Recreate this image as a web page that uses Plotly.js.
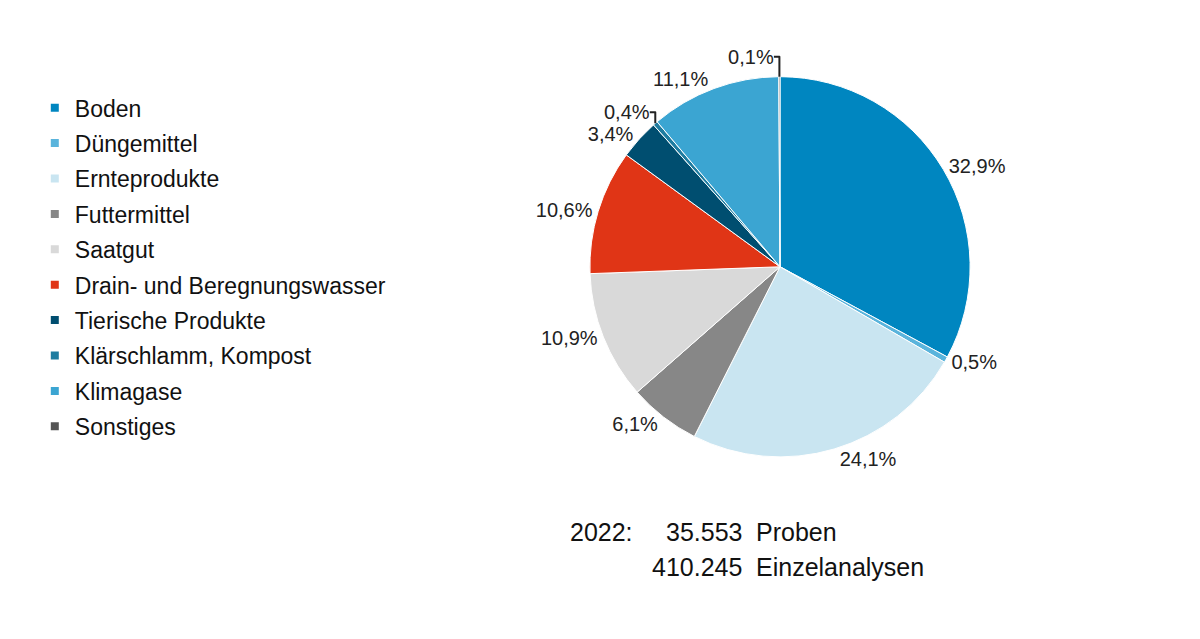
<!DOCTYPE html>
<html>
<head>
<meta charset="utf-8">
<script src="https://cdn.plot.ly/plotly-3.0.1.min.js"></script>
<style>
  html, body { margin: 0; padding: 0; background: #fff; }
  #myDiv { width: 1200px; height: 639px; }
</style>
</head>
<body>
<div id="myDiv"></div>
<script>
var categories = [
  "Boden",
  "Düngemittel",
  "Ernteprodukte",
  "Futtermittel",
  "Saatgut",
  "Drain- und Beregnungswasser",
  "Tierische Produkte",
  "Klärschlamm, Kompost",
  "Klimagase",
  "Sonstiges"
];
var shares = [32.9, 0.5, 24.1, 6.1, 10.9, 10.6, 3.4, 0.4, 11.1, 0.1];
var colors = [
  "#0086c0", "#5ab4dc", "#c9e5f1", "#878787", "#d9d9d9",
  "#e03516", "#004e70", "#1e7ca0", "#3ba5d2", "#555555"
];
var year = "2022:";
var totals = ["35.553", "410.245"];
var totalLabels = ["Proben", "Einzelanalysen"];

var pie = {
  type: "pie",
  labels: categories,
  values: shares,
  sort: false,
  direction: "clockwise",
  rotation: 0,
  marker: { colors: colors, line: { color: "#ffffff", width: 1 } },
  textposition: "outside",
  texttemplate: "%{value:.1f}%",
  textfont: { size: 20, color: "#222" },
  hoverinfo: "label+value",
  showlegend: false,
  domain: { x: [0.45, 0.85], y: [0.285, 0.88] }
};

// legend entries, one per category so the rows can be spaced out
var legendTraces = categories.map(function (name, i) {
  return {
    type: "scatter",
    mode: "markers",
    x: [null],
    y: [null],
    name: name,
    legendgroup: "g" + i,
    marker: { symbol: "square", size: 8, color: colors[i] },
    hoverinfo: "skip"
  };
});

var data = [pie].concat(legendTraces);

var annotations = [
  { text: year, x: 0.473, y: 0.167, xanchor: "left" },
  { text: totals[0], x: 0.62, y: 0.167, xanchor: "right" },
  { text: totalLabels[0], x: 0.628, y: 0.167, xanchor: "left" },
  { text: totals[1], x: 0.62, y: 0.113, xanchor: "right" },
  { text: totalLabels[1], x: 0.628, y: 0.113, xanchor: "left" }
].map(function (a) {
  a.xref = "paper";
  a.yref = "paper";
  a.yanchor = "middle";
  a.showarrow = false;
  a.font = { size: 25, color: "#111" };
  return a;
});

var layout = {
  width: 1200,
  height: 639,
  margin: { l: 0, r: 0, t: 0, b: 0 },
  paper_bgcolor: "#ffffff",
  plot_bgcolor: "#ffffff",
  font: { family: "Liberation Sans, Arial, sans-serif", color: "#111" },
  separators: ",.",
  showlegend: true,
  legend: {
    x: 0.029,
    y: 0.865,
    xanchor: "left",
    yanchor: "top",
    traceorder: "grouped",
    tracegroupgap: 2.5,
    font: { size: 23, color: "#111" },
    itemclick: false,
    itemdoubleclick: false
  },
  xaxis: { visible: false, domain: [0, 0.01] },
  yaxis: { visible: false, domain: [0, 0.01] },
  annotations: annotations
};

var config = { displayModeBar: false, staticPlot: true };

Plotly.newPlot("myDiv", data, layout, config);
</script>
</body>
</html>
